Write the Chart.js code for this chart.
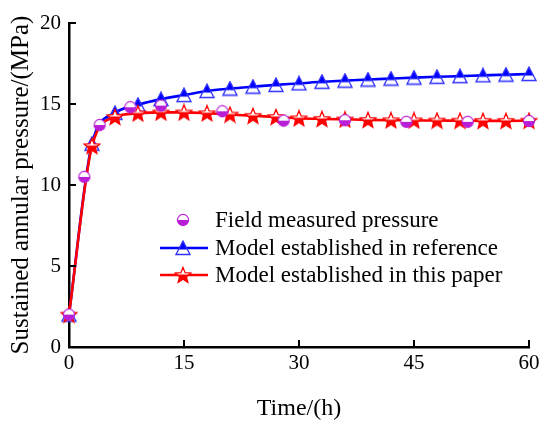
<!DOCTYPE html>
<html>
<head>
<meta charset="utf-8">
<script src="https://cdn.jsdelivr.net/npm/chart.js@4/dist/chart.umd.min.js"></script>
<style>
  html, body { margin: 0; padding: 0; background: #fff; }
  #wrap { width: 550px; height: 426px; }
</style>
</head>
<body>
<div id="wrap"><canvas id="mainChart" width="550" height="426"></canvas></div>
<script>
// model curves are sampled every 3 h
var modelTime = [0, 3, 6, 9, 12, 15, 18, 21, 24, 27, 30, 33, 36, 39, 42, 45, 48, 51, 54, 57, 60];
var referenceModel = [2.0, 12.55, 14.45, 14.95, 15.3, 15.55, 15.8, 15.95, 16.07, 16.18, 16.27,
  16.37, 16.44, 16.51, 16.57, 16.63, 16.68, 16.72, 16.77, 16.81, 16.85];
var paperModel = [2.0, 12.4, 14.2, 14.42, 14.48, 14.48, 14.43, 14.35, 14.27, 14.2, 14.12,
  14.08, 14.05, 14.02, 14.0, 13.99, 13.98, 13.97, 13.96, 13.96, 13.97];
// field measurements
var fieldTime = [0, 2, 4, 8, 12, 20, 28, 36, 44, 52, 60];
var fieldPressure = [2.0, 10.5, 13.7, 14.8, 14.9, 14.55, 13.97, 14.0, 13.9, 13.9, 13.95];

var xTicks = [0, 15, 30, 45, 60];
var yTicks = [0, 5, 10, 15, 20];
var labels = ['Field measured pressure', 'Model established in reference', 'Model established in this paper'];

var BLUE = 'rgb(0,0,255)', RED = 'rgb(255,0,0)', PURPLE = 'rgb(185,30,215)';
var FONT = 'Liberation Serif, Times New Roman, serif';

function pairs(xs, ys) {
  var out = [];
  for (var i = 0; i < xs.length; i++) out.push({x: xs[i], y: ys[i]});
  return out;
}

function makeCanvas(w, h, draw) {
  var c = document.createElement('canvas');
  c.width = w; c.height = h;
  draw(c.getContext('2d'), w, h);
  return c;
}

// half filled markers: filled top for triangle, filled bottom for star/circle
var triMarker = makeCanvas(16, 16, function(g, w, h) {
  function path() {
    g.beginPath();
    g.moveTo(8, 1); g.lineTo(15, 14.5); g.lineTo(1, 14.5); g.closePath();
  }
  path(); g.fillStyle = '#fff'; g.fill();
  g.save(); g.beginPath(); g.rect(0, 0, w, 9.4); g.clip();
  path(); g.fillStyle = BLUE; g.fill(); g.restore();
  path(); g.strokeStyle = 'rgb(50,50,255)'; g.lineWidth = 1.3; g.stroke();
});

var starMarker = makeCanvas(18, 18, function(g, w, h) {
  function path() {
    g.beginPath();
    for (var i = 0; i < 10; i++) {
      var r = i % 2 === 0 ? 8.2 : 3.6;
      var a = -Math.PI / 2 + i * Math.PI / 5;
      var px = 9 + r * Math.cos(a), py = 9.6 + r * Math.sin(a);
      if (i === 0) g.moveTo(px, py); else g.lineTo(px, py);
    }
    g.closePath();
  }
  path(); g.fillStyle = '#fff'; g.fill();
  g.save(); g.beginPath(); g.rect(0, 8.4, w, h); g.clip();
  path(); g.fillStyle = RED; g.fill(); g.restore();
  path(); g.strokeStyle = RED; g.lineWidth = 1.3; g.stroke();
});

var circleMarker = makeCanvas(14, 14, function(g, w, h) {
  g.beginPath(); g.arc(7, 7, 5.6, 0, Math.PI * 2);
  g.fillStyle = '#fff'; g.fill();
  g.beginPath(); g.arc(7, 7, 5.6, 0, Math.PI); g.closePath();
  g.fillStyle = PURPLE; g.fill();
  g.beginPath(); g.arc(7, 7, 5.6, 0, Math.PI * 2);
  g.strokeStyle = PURPLE; g.lineWidth = 1.1; g.stroke();
});

const data = {
  datasets: [{
    label: labels[0],
    data: pairs(fieldTime, fieldPressure),
    showLine: false,
    pointStyle: circleMarker,
    borderColor: PURPLE,
    backgroundColor: PURPLE,
    clip: false,
    order: 0
  }, {
    label: labels[1],
    data: pairs(modelTime, referenceModel),
    borderColor: BLUE,
    backgroundColor: BLUE,
    borderWidth: 2.6,
    cubicInterpolationMode: 'monotone',
    pointStyle: triMarker,
    clip: false,
    order: 2
  }, {
    label: labels[2],
    data: pairs(modelTime, paperModel),
    borderColor: RED,
    backgroundColor: RED,
    borderWidth: 2.6,
    cubicInterpolationMode: 'monotone',
    pointStyle: starMarker,
    clip: false,
    order: 1
  }]
};

// inward tick marks and the custom legend
Chart.register({
  id: 'innerTicks',
  afterDraw: function(chart) {
    var ctx = chart.ctx, a = chart.chartArea;
    var xs = chart.scales.x, ys = chart.scales.y;
    ctx.save();
    ctx.strokeStyle = '#000';
    ctx.lineWidth = 2;
    xTicks.forEach(function(v) {
      var px = xs.getPixelForValue(v);
      ctx.beginPath(); ctx.moveTo(px, a.bottom); ctx.lineTo(px, a.bottom - 7); ctx.stroke();
    });
    yTicks.forEach(function(v) {
      var py = ys.getPixelForValue(v);
      ctx.beginPath(); ctx.moveTo(a.left, py); ctx.lineTo(a.left + 7, py); ctx.stroke();
    });
    ctx.restore();
  }
});

Chart.register({
  id: 'lineLegend',
  afterDraw: function(chart) {
    var ctx = chart.ctx;
    var rows = [220, 248, 275];
    ctx.save();
    ctx.font = '23px ' + FONT;
    ctx.textBaseline = 'middle';
    ctx.fillStyle = '#000';
    chart.data.datasets.forEach(function(ds, i) {
      var y = rows[i], cx = 183;
      if (ds.showLine !== false) {
        ctx.beginPath(); ctx.moveTo(160, y); ctx.lineTo(208, y);
        ctx.strokeStyle = ds.borderColor; ctx.lineWidth = 2.6; ctx.stroke();
      }
      var img = ds.pointStyle;
      ctx.drawImage(img, cx - img.width / 2, y - img.height / 2);
      ctx.fillText(ds.label, 215, y + 1);
    });
    ctx.restore();
  }
});

const config = {
  type: 'line',
  data: data,
  options: {
    responsive: false,
    animation: false,
    devicePixelRatio: 1,
    layout: { padding: { top: 23, right: 21, left: 0, bottom: 0 } },
    plugins: { legend: { display: false }, tooltip: { enabled: false } },
    elements: { point: { radius: 6 } },
    scales: {
      x: {
        type: 'linear', min: 0, max: 60,
        afterFit: function(s) { s.height = 79; },
        afterBuildTicks: function(s) { s.ticks = xTicks.map(function(v) { return {value: v}; }); },
        grid: { display: false, drawTicks: false },
        border: { display: true, color: '#000', width: 2.5 },
        ticks: { color: '#000', padding: 4, font: { family: FONT, size: 21 } },
        title: { display: true, text: 'Time/(h)', color: '#000', padding: { top: 0, bottom: 3 },
          font: { family: FONT, size: 24 } }
      },
      y: {
        min: 0, max: 20,
        afterFit: function(s) { s.width = 69; },
        afterBuildTicks: function(s) { s.ticks = yTicks.map(function(v) { return {value: v}; }); },
        grid: { display: false, drawTicks: false },
        border: { display: true, color: '#000', width: 2.5 },
        ticks: { color: '#000', padding: 8, font: { family: FONT, size: 21 } },
        title: { display: true, text: 'Sustained annular pressure/(MPa)', color: '#000',
          padding: { top: 6, bottom: 0 }, font: { family: FONT, size: 25 } }
      }
    }
  }
};

const myChart = new Chart(document.getElementById('mainChart'), config);
</script>
</body>
</html>
